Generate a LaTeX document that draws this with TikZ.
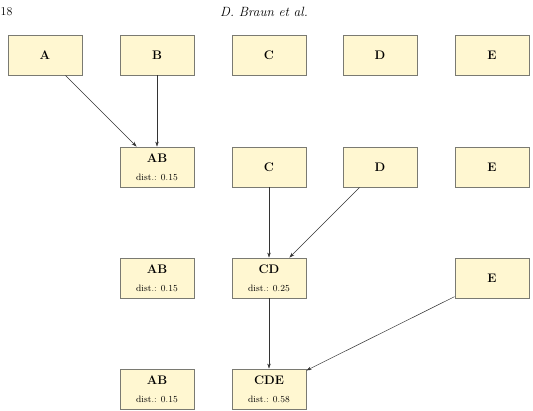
\documentclass[tikz,border=0pt]{standalone}
\usetikzlibrary{arrows.meta}
\definecolor{boxfill}{HTML}{FFF7D1}
\definecolor{boxline}{HTML}{7A7A72}
\begin{document}
\begin{tikzpicture}[x=1pt,y=-1pt,
  cl/.style={draw=boxline,fill=boxfill,line width=0.9pt,minimum width=74pt,minimum height=40pt,inner sep=0pt,align=center,font=\fontsize{12.4}{15}\selectfont\bfseries},
  conn/.style={draw=black!80,line width=0.5pt,-{Stealth[length=5pt,width=3.5pt]}}]
\useasboundingbox (0,0) rectangle (533,410);
\node[anchor=west,inner sep=0.5pt,font=\fontsize{12}{14}\selectfont] (pg) at (0,12) {18};
\node[font=\fontsize{13.4}{15}\selectfont\itshape] (hd) at (264,12) {D. Braun et al.};
% row 1
\node[cl] (A1) at (45,55) {A};
\node[cl] (B1) at (157,55) {B};
\node[cl] (C1) at (269,55) {C};
\node[cl] (D1) at (380,55) {D};
\node[cl] (E1) at (492,55) {E};
% row 2
\node[cl] (AB2) at (157,167) {AB\\[3pt]{\fontsize{9.2}{11}\selectfont\mdseries dist.: 0.15}};
\node[cl] (C2) at (269,167) {C};
\node[cl] (D2) at (380,167) {D};
\node[cl] (E2) at (492,167) {E};
% row 3
\node[cl] (AB3) at (157,278) {AB\\[3pt]{\fontsize{9.2}{11}\selectfont\mdseries dist.: 0.15}};
\node[cl] (CD3) at (269,278) {CD\\[3pt]{\fontsize{9.2}{11}\selectfont\mdseries dist.: 0.25}};
\node[cl] (E3) at (492,278) {E};
% row 4
\node[cl] (AB4) at (157,389) {AB\\[3pt]{\fontsize{9.2}{11}\selectfont\mdseries dist.: 0.15}};
\node[cl] (CDE4) at (269,389) {CDE\\[3pt]{\fontsize{9.2}{11}\selectfont\mdseries dist.: 0.58}};
% connectors
\draw[conn] (A1) -- (AB2);
\draw[conn] (B1) -- (AB2);
\draw[conn] (C2) -- (CD3);
\draw[conn] (D2) -- (CD3);
\draw[conn] (CD3) -- (CDE4);
\draw[conn] (E3) -- (CDE4);
\end{tikzpicture}
\end{document}
